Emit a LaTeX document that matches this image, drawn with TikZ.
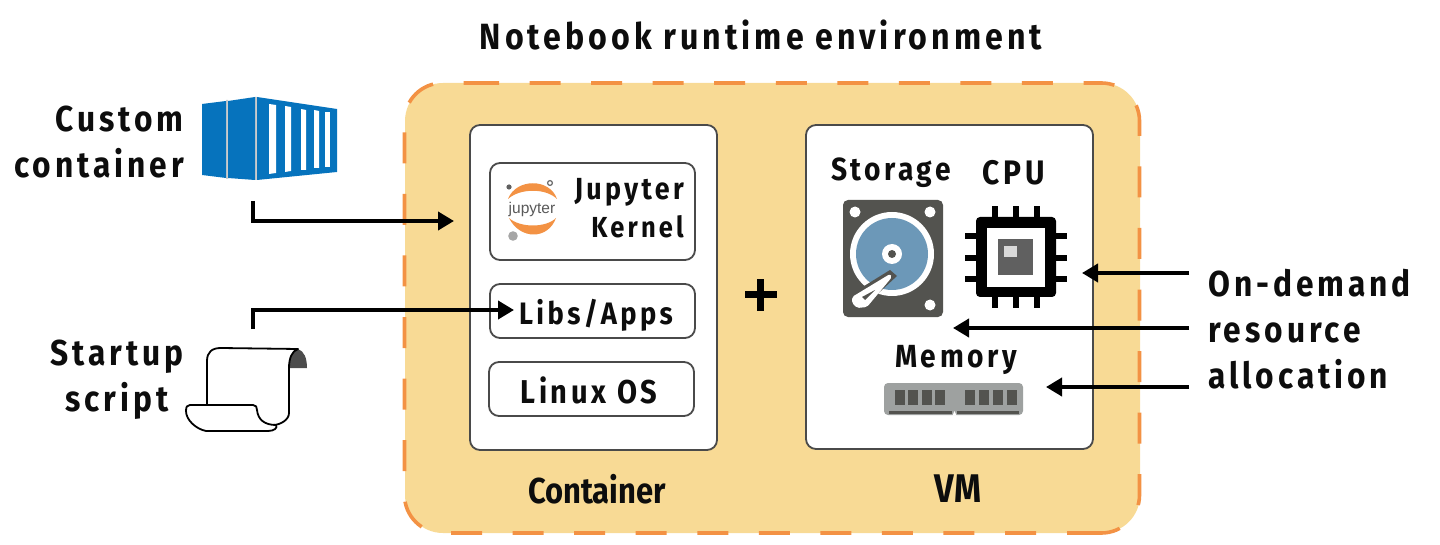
\documentclass[tikz,border=0pt]{standalone}
\usepackage{fontspec}
\setmainfont{Fira Sans}[BoldFont={Fira Sans Bold},BoldFeatures={FakeStretch=0.88,LetterSpace=11}]
\newfontfamily\tightfont{Fira Sans}[BoldFont={Fira Sans Bold},BoldFeatures={FakeStretch=0.86}]
\newfontfamily\jupfont{Liberation Sans}
\usetikzlibrary{arrows.meta}
\definecolor{panel}{HTML}{F8DA95}
\definecolor{dashor}{HTML}{F39244}
\definecolor{boxgr}{HTML}{4A4A4A}
\definecolor{cblue}{HTML}{0673BD}
\definecolor{hdd}{HTML}{53534F}
\definecolor{disk}{HTML}{6C98B8}
\definecolor{ram}{HTML}{9EA1A0}
\tikzset{
  lab/.style={font=\bfseries\fontsize{36}{46}\selectfont,align=center,inner sep=0pt,text=black!95},
  smalllab/.style={font=\bfseries\fontsize{32}{36}\selectfont,inner sep=0pt,text=black!95},
  tight/.style={font=\tightfont\bfseries\fontsize{36}{40}\selectfont,inner sep=0pt,text=black!95},
  conn/.style={draw=black,line width=3.8pt,-{Triangle[length=16pt,width=18pt]}},
  inbox/.style={draw=boxgr,line width=1.8pt,rounded corners=10pt,fill=white,inner sep=0pt,outer sep=0pt,anchor=north west},
  dashline/.style={draw=dashor,line width=3.6pt},
  dashrun/.style={dashline,dash pattern=on 31pt off 30.55pt,rounded corners=38pt},
}
\begin{document}
\begin{tikzpicture}[x=1pt,y=-1pt]
\useasboundingbox (0,0) rectangle (1440,545);
% outer panel
\fill[panel,rounded corners=38pt] (405,83) rectangle (1140,533);
\draw[dashrun] (468,83) -- (1139.5,83) -- (1139.5,533) -- (1090,533);
\draw[dashline] (1098,533) -- (1067,533);
\draw[dashrun] (1036,533) -- (404.5,533) -- (404.5,83) -- (468,83);
\node[lab,font=\bfseries\fontsize{36.5}{46}\selectfont] (title) at (761,35) {Notebook runtime environment};
% container
\node[inbox,minimum width=247pt,minimum height=325pt] (cbox) at (470,125) {};
\node[inbox,minimum width=205pt,minimum height=97pt] (jbox) at (490,163) {};
\node[inbox,minimum width=205pt,minimum height=54pt] (lbox) at (490,284) {};
\node[inbox,minimum width=205pt,minimum height=54pt] (obox) at (489,362) {};
\node[smalllab,font=\bfseries\fontsize{30.5}{36}\selectfont,anchor=east] (jk1) at (684,192) {Jupyter};
\node[smalllab,font=\bfseries\fontsize{29}{36}\selectfont,anchor=east] (jk2) at (684,227) {Kernel};
\node[smalllab,font=\bfseries\fontsize{31}{36}\selectfont] (libs) at (596,315) {Libs/Apps};
\node[smalllab,font=\bfseries\fontsize{33}{36}\selectfont] (os) at (589,390) {Linux OS};
% jupyter logo
\fill[dashor] (508,199) .. controls (516,178) and (550,178) .. (557,199) .. controls (546,188) and (520,188) .. (508,199) -- cycle;
\fill[dashor] (509,218) .. controls (520,240) and (548,240) .. (556,218) .. controls (546,228) and (520,228) .. (509,218) -- cycle;
\node[font=\jupfont\fontsize{15.5}{15}\selectfont,text=black!65,inner sep=0pt] (jlogo) at (532,209) {jupyter};
\fill[gray!75!black] (509,187) circle (2.6pt);
\fill[gray!70] (513,236) circle (4.8pt);
\draw[gray!80!black,line width=1.2pt] (550,183) circle (2.4pt);
% VM
\node[inbox,minimum width=287pt,minimum height=324pt] (vbox) at (806,125) {};
\node[smalllab] (stor) at (891,173) {Storage};
\node[smalllab,font=\bfseries\fontsize{34}{36}\selectfont] (cpu) at (1014,173) {CPU};
\node[smalllab] (mem) at (956,360) {Memory};
\node[tight] (ctr) at (597,489) {Container};
\node[tight,font=\tightfont\bfseries\fontsize{40}{40}\selectfont] (vm) at (958,489) {VM};
% plus
\fill[black] (757,279) rectangle (764,311);
\fill[black] (745,291.5) rectangle (777,298.5);
% HDD
\fill[hdd,rounded corners=5pt] (843,200) rectangle (943,317);
\fill[white] (855,212) circle (5.5pt) (930,212) circle (5.5pt) (930,305) circle (5.5pt);
\fill[white] (892,254) circle (42pt);
\fill[disk] (892,254) circle (36pt);
\fill[white] (892,254) circle (10pt);
\fill[hdd] (892,254) circle (4pt);
\fill[hdd] (858,312) -- (848,296) -- (890,270) -- (897,276) -- cycle;
\fill[white,rounded corners=2pt] (852,297) -- (890,274) -- (892,277) -- (867,307) -- (857,308) -- (852,303) -- cycle;
\fill[hdd] (862,297) -- (875,290) -- (865,300) -- cycle;
% CPU
\foreach \x in {995,1016,1037}{
  \fill[black] (\x-3,206) rectangle (\x+3,308);}
\foreach \y in {236,258,279}{
  \fill[black] (965,\y-3) rectangle (1067,\y+3);}
\fill[black,rounded corners=4pt] (976,217) rectangle (1056,297);
\fill[white] (987,228) rectangle (1045,287);
\fill[gray!75!black] (998,239) rectangle (1033,275);
\fill[gray!30] (1004,246) rectangle (1017,257);
% RAM
\fill[ram,rounded corners=4pt] (884,383) rectangle (1023,415);
\foreach \x in {896,909,923,936,966,980,994,1008}{
  \fill[hdd] (\x-1,390) rectangle (\x+9,405);}
\fill[hdd] (889,411) rectangle (952,414);
\fill[hdd] (957,411) rectangle (1019,414);
\fill[white] (952.5,415.5) -- (954.5,411) -- (956.5,415.5) -- cycle;
% custom container
\fill[gray!40] (226,100) rectangle (228,179) (255,97) rectangle (257,180);
\fill[cblue] (202,104) -- (226,101) -- (226,178) -- (202,175) -- cycle;
\fill[cblue] (228,101) -- (255,97) -- (255,180) -- (228,178) -- cycle;
\fill[cblue] (257,97) -- (337,109) -- (337,172) -- (257,180) -- cycle;
\fill[white] (269,104) -- (276,105) -- (276,173) -- (269,174) -- cycle;
\fill[white] (285,106) -- (291,107) -- (291,171) -- (285,172) -- cycle;
\fill[white] (301,109) -- (306,110) -- (306,170) -- (301,170) -- cycle;
\fill[white] (314,110) -- (319,111) -- (319,168) -- (314,168) -- cycle;
\fill[white] (325,112) -- (330,112) -- (330,167) -- (325,167) -- cycle;
\node[lab,anchor=east,align=right] (cc) at (184,142) {Custom\\container};
% script
\fill[white] (207,405) -- (207,361) .. controls (207,352) and (212,348) .. (221,348) -- (298,349) -- (289,368) -- (289,413) -- (272,425) -- (207,425) -- cycle;
\fill[gray!60!black] (298,349) .. controls (304,351) and (307,358) .. (307,368) -- (289,368) .. controls (289,358) and (292,351) .. (298,349) -- cycle;
\draw[line width=1.8pt,line join=round] (207,405) -- (207,361) .. controls (207,352) and (212,348) .. (221,348) -- (298,349) .. controls (292,351) and (289,358) .. (289,368) -- (289,413) .. controls (289,420) and (280,425) .. (273,425);
\draw[line width=1.8pt,fill=white,line join=round] (190,405) -- (253,405) .. controls (256,405) and (257,407) .. (257,410) .. controls (258,420) and (265,425) .. (276,425) .. controls (278,428) and (274,431) .. (268,431) -- (206,431) .. controls (196,429) and (186,420) .. (186,411) .. controls (186,407) and (187,405) .. (190,405) -- cycle;
\node[lab,align=center] (ss) at (117,380) {Startup\\script};
% connector anchors
\coordinate (a1) at (253,201);
\coordinate (a1e) at (454,221);
\coordinate (a2) at (253,329);
\coordinate (a2e) at (514,310);
\coordinate (r) at (1189,273);
\coordinate (r2) at (1189,328);
\coordinate (r3) at (1189,387);
\coordinate (r1e) at (1082,273);
\coordinate (r2e) at (953,328);
\coordinate (r3e) at (1046,387);
\draw[conn] (a1) |- (a1e);
\draw[conn] (a2) |- (a2e);
\draw[conn] (r) -- (r1e);
\draw[conn] (r2) -- (r2e);
\draw[conn] (r3) -- (r3e);
\node[lab,anchor=west,align=left] (od) at (1208,329) {On-demand\\resource\\allocation};
\end{tikzpicture}
\end{document}
